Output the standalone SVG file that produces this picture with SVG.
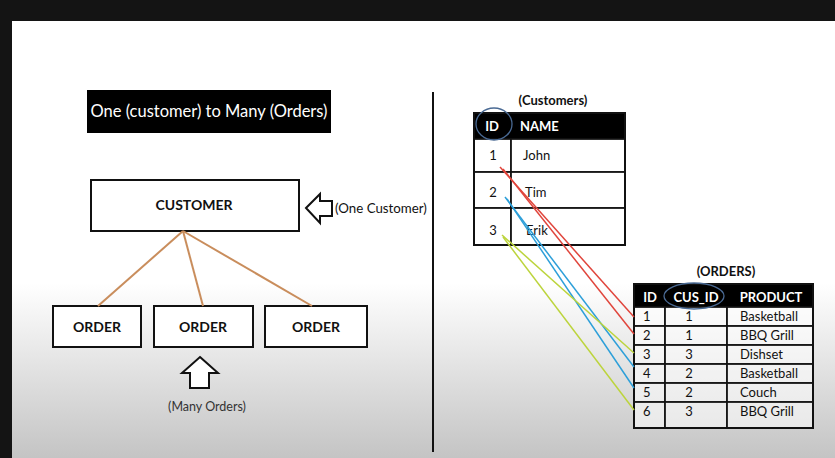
<svg xmlns="http://www.w3.org/2000/svg" width="835" height="458" viewBox="0 0 835 458">
<defs>
<linearGradient id="bg" x1="0" y1="0" x2="0" y2="1">
<stop offset="0" stop-color="#ffffff"/>
<stop offset="0.6" stop-color="#ffffff"/>
<stop offset="1" stop-color="#c4c4c4"/>
</linearGradient>
</defs>
<style>
text{font-family:Lato,"Open Sans","Liberation Sans",sans-serif;fill:#111}
.b{font-weight:bold}
.box{fill:#fff;stroke:#111;stroke-width:2}
.cell{fill:#fff;fill-opacity:0.55;stroke:#111;stroke-width:1.6}
.hdr{fill:#000;stroke:#111;stroke-width:1.6}
.brown{stroke:#c98d5c;stroke-width:2;fill:none}
.red{stroke:#e0453c;stroke-width:1.5;fill:none}
.blue{stroke:#2d9fd9;stroke-width:1.5;fill:none}
.green{stroke:#bcd43c;stroke-width:1.5;fill:none}
.oval{fill:none;stroke:#4a6a94;stroke-width:1.3}
.arrow{fill:#fff;stroke:#111;stroke-width:2;stroke-linejoin:miter}
</style>
<rect x="0" y="0" width="835" height="458" fill="#141414"/>
<rect x="12" y="21" width="823" height="437" fill="url(#bg)"/>

<g id="title">
<rect x="87" y="90" width="244" height="43" fill="#000"/>
<text x="209" y="117" text-anchor="middle" style="font-size:16.5px;fill:#fff">One (customer) to Many (Orders)</text>
</g>

<g id="separator">
<line x1="433" y1="92" x2="433" y2="452" stroke="#111" stroke-width="2"/>
</g>

<g id="customer">
<rect class="box" x="91" y="180" width="208" height="51"/>
<text x="194" y="210" text-anchor="middle" class="b" style="font-size:14px">CUSTOMER</text>
</g>

<g id="one-customer">
<polygon class="arrow" points="306,208 320,194 320,201 332,201 332,216 320,216 320,223"/>
<text x="335" y="213" style="font-size:13.3px">(One Customer)</text>
</g>

<g id="order1">
<rect class="box" x="53" y="306" width="88" height="41"/>
<text x="97" y="332" text-anchor="middle" class="b" style="font-size:14px">ORDER</text>
</g>
<g id="order2">
<rect class="box" x="154" y="306" width="99" height="41"/>
<text x="203" y="332" text-anchor="middle" class="b" style="font-size:14px">ORDER</text>
</g>
<g id="order3">
<rect class="box" x="265" y="306" width="102" height="41"/>
<text x="316" y="332" text-anchor="middle" class="b" style="font-size:14px">ORDER</text>
</g>

<g id="many-orders">
<polygon class="arrow" points="200,357 218,373 209,373 209,388 190,388 190,373 182,373"/>
<text x="207" y="411" text-anchor="middle" style="font-size:12.5px;fill:#333">(Many Orders)</text>
</g>

<g id="customers-table">
<text x="553" y="105" text-anchor="middle" class="b" style="font-size:13px">(Customers)</text>
<rect class="hdr" x="474" y="113" width="151" height="26"/>
<rect class="cell" x="474" y="139" width="37" height="33"/>
<rect class="cell" x="511" y="139" width="114" height="33"/>
<rect class="cell" x="474" y="172" width="37" height="36"/>
<rect class="cell" x="511" y="172" width="114" height="36"/>
<rect class="cell" x="474" y="208" width="37" height="37"/>
<rect class="cell" x="511" y="208" width="114" height="37"/>
<rect x="474" y="113" width="151" height="132" fill="none" stroke="#111" stroke-width="2"/>
<text x="492" y="131" text-anchor="middle" class="b" style="font-size:13px;fill:#fff">ID</text>
<text x="520" y="131" class="b" style="font-size:13px;fill:#fff">NAME</text>
<text x="493" y="160" text-anchor="middle" style="font-size:13px">1</text>
<text x="523" y="160" style="font-size:13px">John</text>
<text x="493" y="197" text-anchor="middle" style="font-size:13px">2</text>
<text x="525" y="197" style="font-size:13px">Tim</text>
<text x="493" y="235" text-anchor="middle" style="font-size:13px">3</text>
<text x="526" y="235" style="font-size:13px">Erik</text>
<ellipse class="oval" cx="494" cy="124" rx="18" ry="16"/>
</g>

<g id="orders-table">
<text x="726" y="276" text-anchor="middle" class="b" style="font-size:13px">(ORDERS)</text>
<rect class="hdr" x="634" y="284" width="179" height="23"/>
<g>
<rect class="cell" x="634" y="307" width="31" height="19"/><rect class="cell" x="665" y="307" width="62" height="19"/><rect class="cell" x="727" y="307" width="86" height="19"/>
<rect class="cell" x="634" y="326" width="31" height="19"/><rect class="cell" x="665" y="326" width="62" height="19"/><rect class="cell" x="727" y="326" width="86" height="19"/>
<rect class="cell" x="634" y="345" width="31" height="19"/><rect class="cell" x="665" y="345" width="62" height="19"/><rect class="cell" x="727" y="345" width="86" height="19"/>
<rect class="cell" x="634" y="364" width="31" height="19"/><rect class="cell" x="665" y="364" width="62" height="19"/><rect class="cell" x="727" y="364" width="86" height="19"/>
<rect class="cell" x="634" y="383" width="31" height="19"/><rect class="cell" x="665" y="383" width="62" height="19"/><rect class="cell" x="727" y="383" width="86" height="19"/>
<rect class="cell" x="634" y="402" width="31" height="26"/><rect class="cell" x="665" y="402" width="62" height="26"/><rect class="cell" x="727" y="402" width="86" height="26"/>
</g>
<rect x="634" y="284" width="179" height="144" fill="none" stroke="#111" stroke-width="2"/>
<text x="650" y="302" text-anchor="middle" class="b" style="font-size:13px;fill:#fff">ID</text>
<text x="696" y="302" text-anchor="middle" class="b" style="font-size:13px;fill:#fff">CUS_ID</text>
<text x="771" y="302" text-anchor="middle" class="b" style="font-size:13px;fill:#fff">PRODUCT</text>
<g style="font-size:13px">
<text x="643" y="321">1</text><text x="689" y="321" text-anchor="middle">1</text><text x="740" y="321">Basketball</text>
<text x="643" y="340">2</text><text x="689" y="340" text-anchor="middle">1</text><text x="740" y="340">BBQ Grill</text>
<text x="643" y="359">3</text><text x="689" y="359" text-anchor="middle">3</text><text x="740" y="359">Dishset</text>
<text x="643" y="378">4</text><text x="689" y="378" text-anchor="middle">2</text><text x="740" y="378">Basketball</text>
<text x="643" y="397">5</text><text x="689" y="397" text-anchor="middle">2</text><text x="740" y="397">Couch</text>
<text x="643" y="416">6</text><text x="689" y="416" text-anchor="middle">3</text><text x="740" y="416">BBQ Grill</text>
</g>
<ellipse class="oval" cx="694" cy="296" rx="30" ry="13"/>
</g>

<g id="connectors">
<line class="brown" x1="183" y1="231" x2="98" y2="306"/>
<line class="brown" x1="183" y1="231" x2="203" y2="306"/>
<line class="brown" x1="183" y1="231" x2="312" y2="306"/>
<line class="red" x1="500" y1="167" x2="634" y2="317"/>
<line class="red" x1="503" y1="169" x2="634" y2="334"/>
<line class="blue" x1="505" y1="197" x2="634" y2="367"/>
<line class="blue" x1="507" y1="199" x2="634" y2="388"/>
<line class="green" x1="502" y1="235" x2="634" y2="353"/>
<line class="green" x1="503" y1="237" x2="634" y2="410"/>
</g>
</svg>
